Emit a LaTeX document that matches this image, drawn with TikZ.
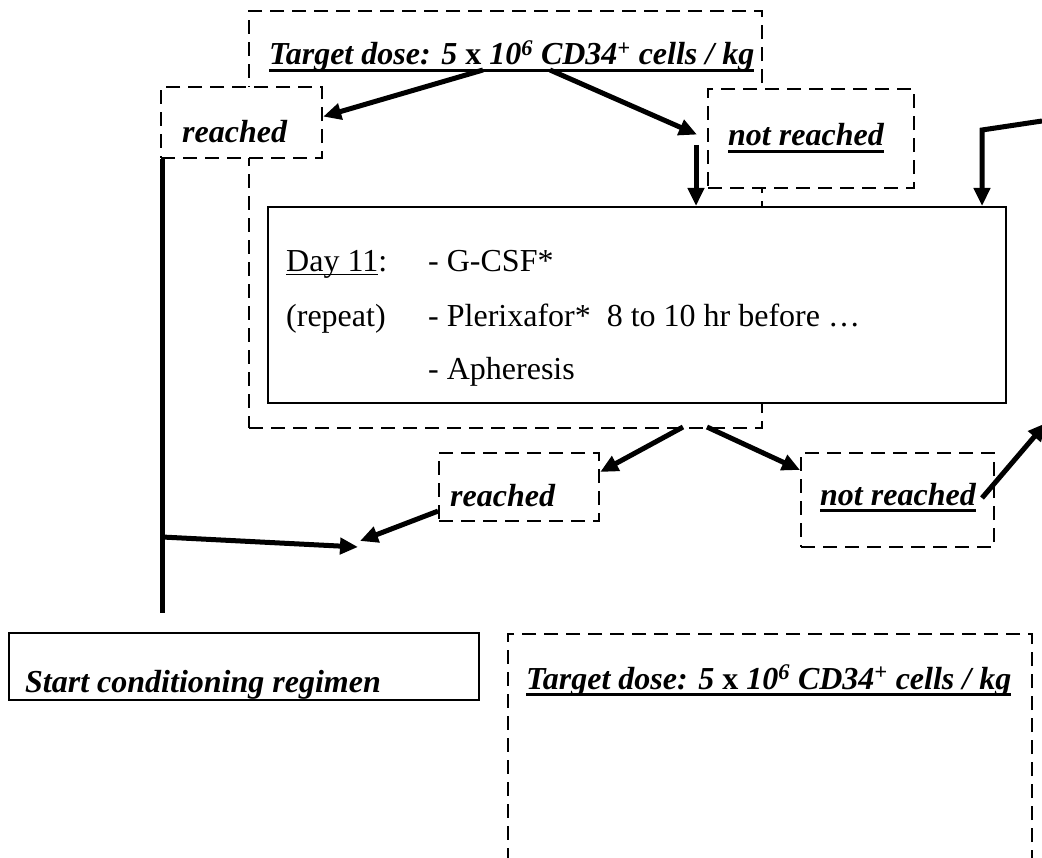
\documentclass[tikz,border=0pt]{standalone}
\usepackage{fontspec}
\setmainfont{Liberation Serif}
\usetikzlibrary{arrows.meta,positioning,calc}

% thick and thin underlines
\newcommand{\ulthick}[1]{\setbox0=\hbox{#1}\rlap{\rule[-7pt]{\wd0}{3.4pt}}\box0}
\newcommand{\ulthin}[1]{\setbox0=\hbox{#1}\rlap{\rule[-3.5pt]{\wd0}{1.5pt}}\box0}
\newcommand{\dosetext}{\ulthick{Target dose: 5 \textup{x} 10\textsuperscript{6} CD34\textsuperscript{+} cells / kg}}

\begin{document}
\begin{tikzpicture}[x=1pt,y=-1pt,
    dbox/.style={draw, line width=2.2pt, dash pattern=on 14pt off 8pt, fill=white, inner sep=0pt, anchor=north west},
    sbox/.style={draw, line width=2.2pt, fill=white, inner sep=0pt, anchor=north west},
    btxt/.style={font=\fontsize{32}{38}\selectfont\bfseries\itshape, inner sep=0pt, anchor=base west},
    rtxt/.style={font=\fontsize{32}{38}\selectfont, inner sep=0pt, anchor=base west},
    flow/.style={line width=5pt, -{Triangle[length=18pt,width=16pt]}}]
            \useasboundingbox (0,0) rectangle (1042,858);
            \clip (0,0) rectangle (1042,858);
            % draw the outer dashed frame
            \node[dbox, fill=none, minimum width=513, minimum height=417] (outer) at (248,10) {};
            \node[btxt] (dose) at (269,65) {\dosetext};
            % draw the first decision boxes
            \node[dbox, minimum width=161, minimum height=71] (reach1) at (160,86) {};
            \node[btxt] (reach1txt) at (182,143) {reached};
            \node[dbox, minimum width=206, minimum height=99] (notreach1) at (707,88) {};
            \node[btxt] (notreach1txt) at (728,146) {\ulthick{not reached}};
            % draw the day 11 box
            \node[sbox, minimum width=738, minimum height=196] (dayb) at (267,206) {};
            \node[rtxt] (day) at (286,272) {\ulthin{Day 11}:};
            \node[rtxt] (gcsf) at (428,272) {- G-CSF*};
            \node[rtxt] (repeat) at (286,327) {(repeat)};
            \node[rtxt] (plerix) at (428,327) {- Plerixafor*~~8 to 10 hr before …};
            \node[rtxt] (apher) at (428,380) {- Apheresis};
            % draw the second decision boxes
            \node[dbox, minimum width=160, minimum height=68] (reach2) at (438,452) {};
            \node[btxt] (reach2txt) at (450,506) {reached};
            \node[dbox, minimum width=193, minimum height=94] (notreach2) at (800,452) {};
            \node[btxt] (notreach2txt) at (820,505) {\ulthick{not reached}};
            % draw the bottom boxes
            \node[sbox, minimum width=470, minimum height=67] (start) at (8,632) {};
            \begin{scope}
                \clip (start.north west) rectangle (start.south east);
                \node[btxt] (starttxt) at (25,692) {Start conditioning regimen};
            \end{scope}
            \node[dbox, minimum width=524, minimum height=300] (dose2) at (507,633) {};
            \node[btxt] (dose2txt) at (526,689) {\dosetext};
            % free ends of the connectors
            \coordinate (doseL) at (483,70);
            \coordinate (doseR) at (550,70);
            \coordinate (dropA) at (696,145);
            \coordinate (edgeA) at (1042,121);
            \coordinate (bend) at (982,130);
            \coordinate (outL) at (683,427);
            \coordinate (outR) at (707,427);
            \coordinate (nrout) at (982,498);
            \coordinate (edgeB) at (1046,423);
            \coordinate (meet) at (360,541);
            \coordinate (trunkmid) at (162,537);
            \coordinate (trunkend) at (162,613);
            % draw the connectors
            \draw[flow] (doseL) -- ([yshift=6pt]reach1.east);
            \draw[flow] (doseR) -- ([xshift=-10pt,yshift=4pt]notreach1.west);
            \draw[flow] (dropA) -- (dropA |- dayb.north);
            \draw[flow] (edgeA) -- (bend) -- (bend |- dayb.north);
            \draw[flow] (outL) -- ([yshift=-20pt]reach2.north east);
            \draw[flow] (outR) -- ([yshift=-18pt]notreach2.north west);
            \draw[flow] (nrout) -- (edgeB);
            \draw[flow] ([yshift=-24pt]reach2.west) -- (meet);
            \draw[line width=5pt] ([xshift=2pt]reach1.south west) -- (trunkend);
            \draw[flow] (trunkmid) -- ([xshift=-2pt,yshift=-6pt]meet);
        \end{tikzpicture}
\end{document}
